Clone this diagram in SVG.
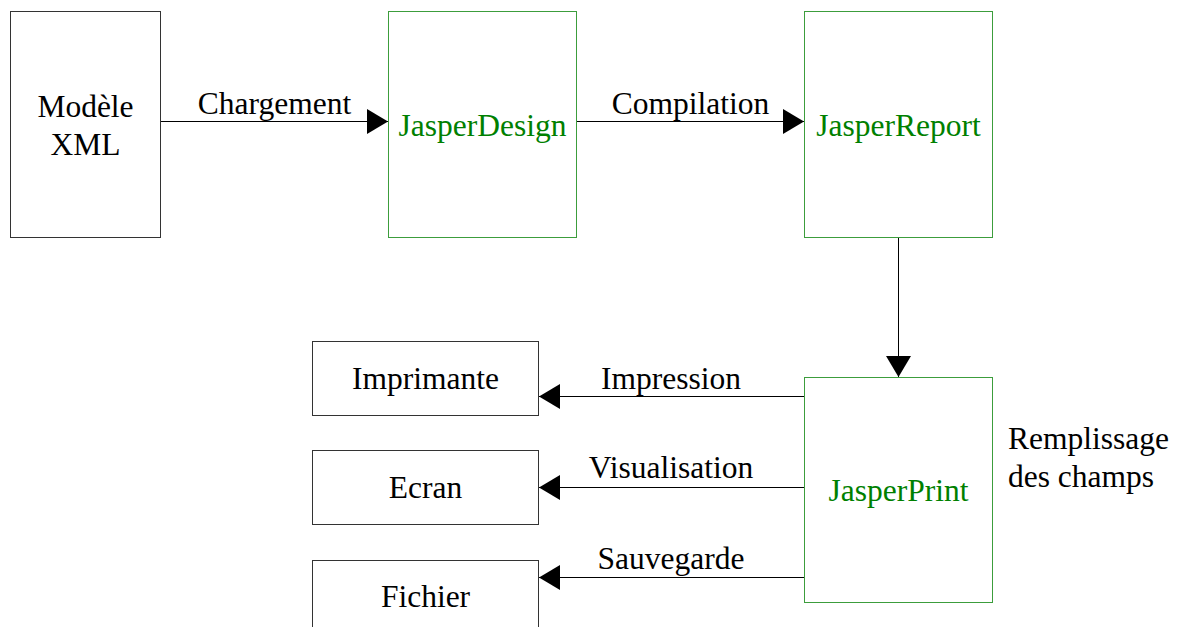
<svg xmlns="http://www.w3.org/2000/svg" width="1186" height="627" viewBox="0 0 1186 627">
<style>
text{font-family:"Liberation Serif","Times New Roman",serif;font-size:31.5px;fill:#000}
.c{text-anchor:middle}
.g{fill:#008000}
.bk{fill:#fff;stroke:#333;stroke-width:1}
.gr{fill:#fff;stroke:#3c9d3c;stroke-width:1}
.ln{stroke:#000;stroke-width:1;fill:none;marker-end:url(#ah)}
</style>
<defs>
<marker id="ah" markerUnits="userSpaceOnUse" markerWidth="22" markerHeight="26" refX="21" refY="12.5" orient="auto">
<path d="M0,0 L21,12.5 L0,25 Z" fill="#000"/>
</marker>
</defs>
<rect width="1186" height="627" fill="#fff"/>
<g id="connectors">
<line class="ln" x1="161" y1="121.5" x2="388" y2="121.5"/>
<line class="ln" x1="577" y1="121.5" x2="804" y2="121.5"/>
<line class="ln" x1="898.5" y1="238" x2="898.5" y2="377"/>
<line class="ln" x1="804" y1="396.5" x2="539" y2="396.5"/>
<line class="ln" x1="804" y1="487.5" x2="539" y2="487.5"/>
<line class="ln" x1="804" y1="577.5" x2="539" y2="577.5"/>
<text class="c" x="274.5" y="114">Chargement</text>
<text class="c" x="690.5" y="114">Compilation</text>
<text class="c" x="671" y="389">Impression</text>
<text class="c" x="671" y="478">Visualisation</text>
<text class="c" x="671" y="569">Sauvegarde</text>
</g>
<g id="modele">
<rect class="bk" x="10.5" y="11.5" width="150" height="226"/>
<text class="c" x="85.5" y="117">Modèle</text>
<text class="c" x="85.5" y="155">XML</text>
</g>
<g id="jasperdesign">
<rect class="gr" x="388.5" y="11.5" width="188" height="226"/>
<text class="c g" x="482.5" y="136">JasperDesign</text>
</g>
<g id="jasperreport">
<rect class="gr" x="804.5" y="11.5" width="188" height="226"/>
<text class="c g" x="898.5" y="136">JasperReport</text>
</g>
<g id="jasperprint">
<rect class="gr" x="804.5" y="377.5" width="188" height="225"/>
<text class="c g" x="898.5" y="501">JasperPrint</text>
</g>
<g id="remplissage">
<text x="1008" y="449">Remplissage</text>
<text x="1008" y="487">des champs</text>
</g>
<g id="imprimante">
<rect class="bk" x="312.5" y="341.5" width="226" height="74"/>
<text class="c" x="425.5" y="389">Imprimante</text>
</g>
<g id="ecran">
<rect class="bk" x="312.5" y="450.5" width="226" height="74"/>
<text class="c" x="425.5" y="498">Ecran</text>
</g>
<g id="fichier">
<rect class="bk" x="312.5" y="560.5" width="226" height="90"/>
<text class="c" x="425.5" y="607">Fichier</text>
</g>
</svg>
